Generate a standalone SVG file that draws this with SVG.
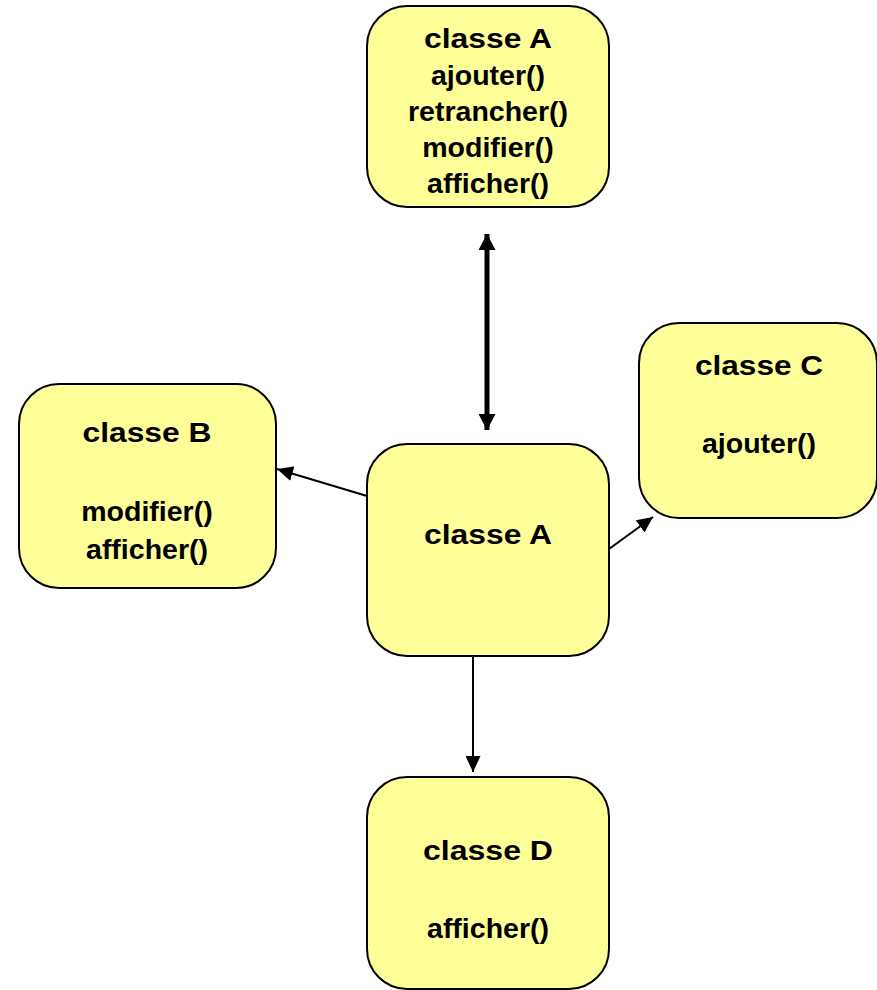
<svg xmlns="http://www.w3.org/2000/svg" width="877" height="990" viewBox="0 0 877 990">
<style>
.box{fill:#FFFF99;stroke:#000;stroke-width:2}
text{font-family:"Liberation Sans",Arial,sans-serif;font-weight:bold;font-size:28.5px;fill:#000;text-anchor:middle}
.c{stroke:#000;fill:none}
</style>
<defs>
<marker id="ah" viewBox="0 0 10 10" refX="10" refY="5" markerWidth="16" markerHeight="15" markerUnits="userSpaceOnUse" orient="auto" preserveAspectRatio="none"><path d="M0,0 L10,5 L0,10 Z" fill="#000"/></marker>
<marker id="ahb" viewBox="0 0 10 10" refX="10" refY="5" markerWidth="16" markerHeight="17" markerUnits="userSpaceOnUse" orient="auto-start-reverse" preserveAspectRatio="none"><path d="M0,0 L10,5 L0,10 Z" fill="#000"/></marker>
</defs>
<rect width="877" height="990" fill="#fff"/>
<g id="connectors">
<line class="c" x1="487" y1="234" x2="487" y2="430" stroke-width="5" marker-start="url(#ahb)" marker-end="url(#ahb)"/>
<line class="c" x1="367" y1="496" x2="277" y2="469" stroke-width="2" marker-end="url(#ah)"/>
<line class="c" x1="609" y1="549" x2="653" y2="517" stroke-width="2" marker-end="url(#ah)"/>
<line class="c" x1="473" y1="656" x2="473" y2="772" stroke-width="2" marker-end="url(#ah)"/>
</g>
<g id="nodeTop">
<rect class="box" x="367" y="6" width="242" height="201" rx="40"/>
<text x="488" y="48" textLength="128" lengthAdjust="spacingAndGlyphs">classe A</text>
<text x="488" y="85">ajouter()</text>
<text x="488" y="121">retrancher()</text>
<text x="488" y="157">modifier()</text>
<text x="488" y="193">afficher()</text>
</g>
<g id="nodeCenter">
<rect class="box" x="367" y="444" width="242" height="212" rx="40"/>
<text x="488" y="544" textLength="128" lengthAdjust="spacingAndGlyphs">classe A</text>
</g>
<g id="nodeB">
<rect class="box" x="19" y="384" width="257" height="204" rx="40"/>
<text x="147" y="442" textLength="129" lengthAdjust="spacingAndGlyphs">classe B</text>
<text x="147" y="521">modifier()</text>
<text x="147" y="559">afficher()</text>
</g>
<g id="nodeC">
<rect class="box" x="639" y="323" width="238" height="195" rx="40"/>
<text x="759" y="375" textLength="128" lengthAdjust="spacingAndGlyphs">classe C</text>
<text x="759" y="453">ajouter()</text>
</g>
<g id="nodeD">
<rect class="box" x="367" y="777" width="242" height="212" rx="40"/>
<text x="488" y="860" textLength="130" lengthAdjust="spacingAndGlyphs">classe D</text>
<text x="488" y="938">afficher()</text>
</g>
</svg>
